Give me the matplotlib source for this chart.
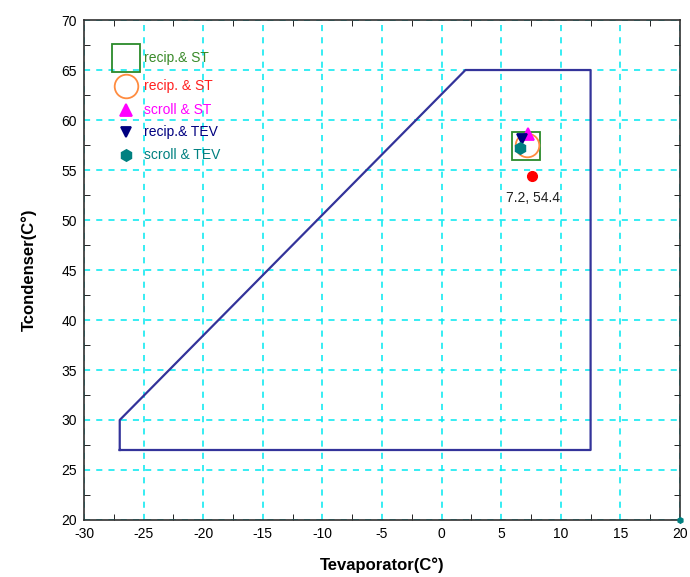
import matplotlib
matplotlib.use('Agg')
import matplotlib.pyplot as plt
from matplotlib.ticker import MultipleLocator

plt.rcParams['font.family'] = ['Liberation Sans', 'DejaVu Sans']
plt.rcParams['axes.unicode_minus'] = False

# compressor operating envelope
env_x = [-27, -27, 2, 12.5, 12.5, -27]
env_y = [27, 30, 65, 65, 27, 27]

# operating points
labels = ['recip.& ST', 'recip. & ST', 'scroll & ST', 'recip.& TEV', 'scroll & TEV']
pt_x = [7.1, 7.15, 7.25, 6.75, 6.6]
pt_y = [57.45, 57.5, 58.6, 58.1, 57.2]
markers = ['s', 'o', '^', 'v', 'h']
colors = ['#2a8a2a', '#ff8c40', '#ff00ff', '#000080', '#008080']
filled = [False, False, True, True, True]
sizes = [20, 17, 8, 7, 8]
label_colors = ['#3a8a2a', '#ff2020', '#ff00ff', '#000080', '#008080']

design_x, design_y = 7.55, 54.4
design_label = '7.2, 54.4'

fig = plt.figure(figsize=(6.9, 5.77), dpi=100)
ax = fig.add_axes([0.1217, 0.0988, 0.8638, 0.8665])

ax.plot(env_x, env_y, color='#33339a', lw=1.6, zorder=3)

for i in range(len(labels)):
    fc = colors[i] if filled[i] else 'none'
    ax.plot(pt_x[i], pt_y[i], linestyle='none', marker=markers[i],
            markersize=sizes[i], markerfacecolor=fc, markeredgecolor=colors[i],
            markeredgewidth=1.3, zorder=4)

ax.plot(design_x, design_y, 'o', color='red', markersize=7, zorder=5)
ax.text(design_x + 0.1, design_y - 2.2, design_label, fontsize=10,
        ha='center', va='center', color='#202020')
# stray marker at the corner
ax.plot(20, 20, 'h', color='#008080', markersize=4, clip_on=False, zorder=6)

# hand placed legend (rows are unevenly spaced in the original)
leg_y = [0.924, 0.868, 0.82, 0.776, 0.73]
for i in range(len(labels)):
    fc = colors[i] if filled[i] else 'none'
    ax.plot(0.070, leg_y[i], linestyle='none', marker=markers[i],
            markersize=sizes[i], markerfacecolor=fc, markeredgecolor=colors[i],
            markeredgewidth=1.3, transform=ax.transAxes, zorder=6)
    ax.text(0.100, leg_y[i], labels[i], color=label_colors[i], fontsize=10,
            va='center', ha='left', transform=ax.transAxes, zorder=6)

ax.set_xlim(-30, 20)
ax.set_ylim(20, 70)
ax.xaxis.set_major_locator(MultipleLocator(5))
ax.yaxis.set_major_locator(MultipleLocator(5))
ax.xaxis.set_minor_locator(MultipleLocator(2.5))
ax.yaxis.set_minor_locator(MultipleLocator(2.5))
ax.tick_params(which='major', length=0, labelsize=10, pad=5)
ax.tick_params(which='minor', direction='in', length=4, top=True, right=True)
ax.grid(True, which='major', color='#00e8f0', linestyle=(0, (4, 4)), lw=1.1)

for s in ax.spines.values():
    s.set_linewidth(1.2)
    s.set_color('#303030')

ax.set_xlabel('Tevaporator(C°)', fontsize=12, fontweight='bold', labelpad=12)
ax.set_ylabel('Tcondenser(C°)', fontsize=12, fontweight='bold', labelpad=18)

fig.savefig('out.png', dpi=100)
